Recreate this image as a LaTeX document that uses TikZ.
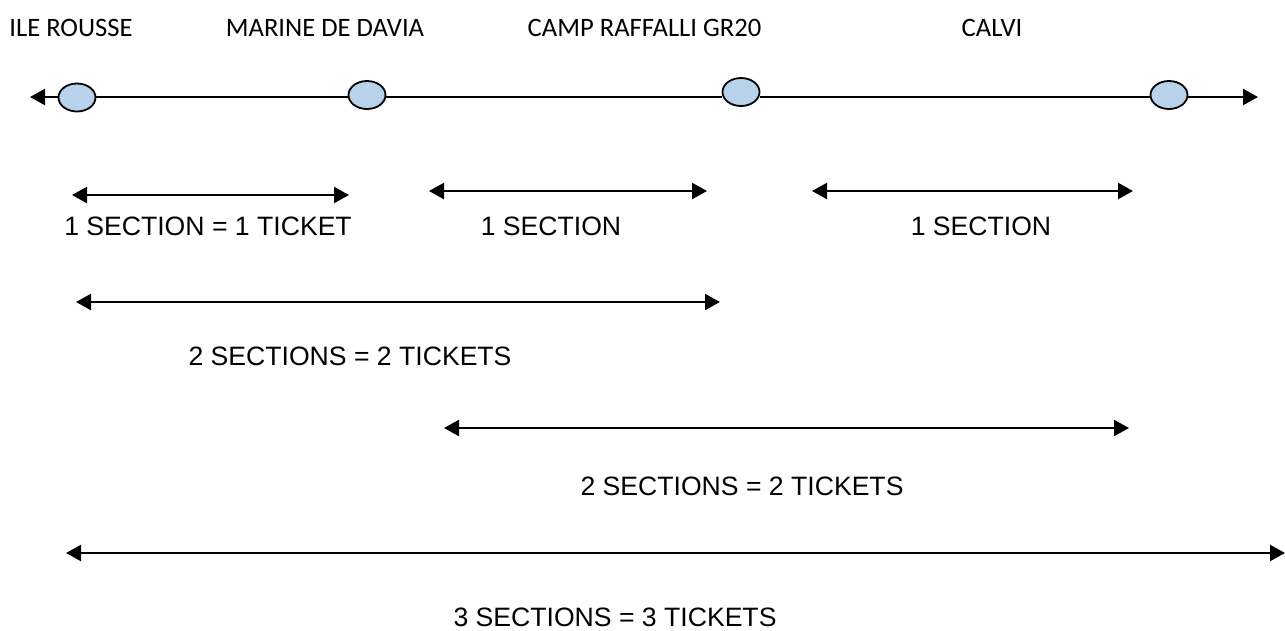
\documentclass[tikz,border=0pt]{standalone}
\usepackage{fontspec}
\setmainfont{Liberation Sans}
\newfontfamily\carlitofont{Carlito}
\usetikzlibrary{arrows.meta,shapes.geometric}
\definecolor{stopfill}{RGB}{185,210,236}
\tikzset{
 stopnode/.style={draw=black,fill=stopfill,ellipse,line width=1.8pt,minimum width=37pt,minimum height=28pt,inner sep=0pt},
 spanline/.style={line width=2.3pt,{Triangle[length=15pt,width=16pt]}-{Triangle[length=15pt,width=16pt]}},
 mainline/.style={line width=2.3pt},
 place/.style={font=\carlitofont\fontsize{26.6}{28}\selectfont,text=black,anchor=center,inner sep=0pt},
 lab/.style={font=\fontsize{26.6}{28}\selectfont,text=black,anchor=center,inner sep=0pt}
}
\begin{document}
\begin{tikzpicture}[x=1pt,y=-1pt]
\useasboundingbox (0,0) rectangle (1285,630);
\coordinate (ml) at (30,97);
\coordinate (mr) at (1258,97);
\node[stopnode] (s1) at (77,97.5) {};
\node[stopnode] (s2) at (367,95) {};
\node[stopnode] (s3) at (741,92) {};
\node[stopnode] (s4) at (1169,95) {};
\draw[mainline,-{Triangle[length=15pt,width=16pt]}] (s1.west |- ml) -- (ml);
\draw[mainline] (s1.east |- ml) -- (s2.west |- ml);
\draw[mainline] (s2.east |- ml) -- (s3.west |- ml);
\draw[mainline] (s3.east |- ml) -- (s4.west |- ml);
\draw[mainline,-{Triangle[length=15pt,width=16pt]}] (s4.east |- ml) -- (mr);
\node[place] (n1) at (71,28) {ILE ROUSSE};
\node[place] (n2) at (325,28) {MARINE DE DAVIA};
\node[place] (n3) at (644.5,28) {CAMP RAFFALLI GR20};
\node[place] (n4) at (992,28) {CALVI};
\coordinate (a1) at (72,195); \coordinate (b1) at (349,195);
\coordinate (a2) at (429,191); \coordinate (b2) at (707,191);
\coordinate (a3) at (812,191); \coordinate (b3) at (1133,191);
\coordinate (a4) at (76,302); \coordinate (b4) at (720,302);
\coordinate (a5) at (444,428); \coordinate (b5) at (1129,428);
\coordinate (a6) at (66,553); \coordinate (b6) at (1285,553);
\draw[spanline] (a1) -- (b1);
\draw[spanline] (a2) -- (b2);
\draw[spanline] (a3) -- (b3);
\draw[spanline] (a4) -- (b4);
\draw[spanline] (a5) -- (b5);
\draw[spanline] (a6) -- (b6);
\node[lab] (l1) at (208,226) {1 SECTION = 1 TICKET};
\node[lab] (l2) at (551,226) {1 SECTION};
\node[lab] (l3) at (981,226) {1 SECTION};
\node[lab] (l4) at (350,356) {2 SECTIONS = 2 TICKETS};
\node[lab] (l5) at (742,486) {2 SECTIONS = 2 TICKETS};
\node[lab] (l6) at (615,617) {3 SECTIONS = 3 TICKETS};
\end{tikzpicture}
\end{document}
